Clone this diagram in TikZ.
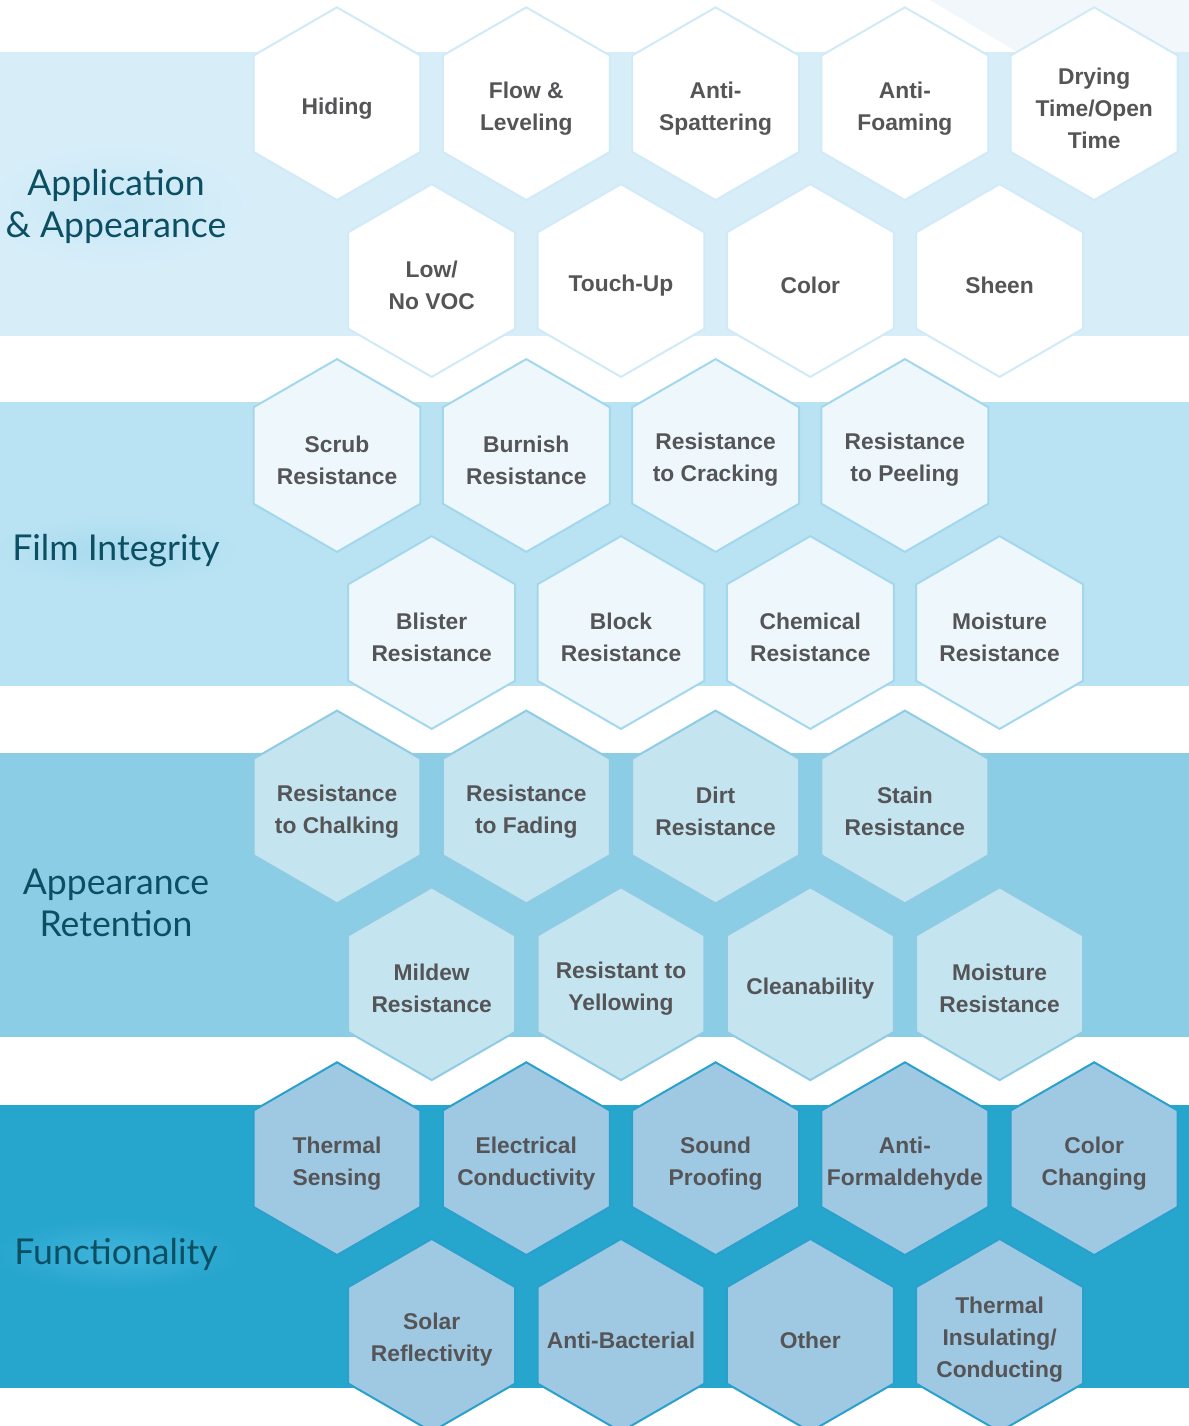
\documentclass[tikz,border=0pt]{standalone}
\usepackage{fontspec}
\setmainfont{Liberation Sans}
\newfontfamily\labelfont{Lato}
\usepackage{tikz}
\usetikzlibrary{shapes.geometric}
\usepackage{xcolor}

\definecolor{bandA}{HTML}{D7EEF9}
\definecolor{bandB}{HTML}{B9E3F3}
\definecolor{bandC}{HTML}{8ACDE5}
\definecolor{bandD}{HTML}{26A5CD}
\definecolor{hexB}{HTML}{EEF8FC}
\definecolor{hexC}{HTML}{C4E4F0}
\definecolor{hexD}{HTML}{9FC9E2}
\definecolor{lineA}{HTML}{D0EAF8}
\definecolor{lineB}{HTML}{A3D7ED}
\definecolor{lineC}{HTML}{8FCCE4}
\definecolor{lineD}{HTML}{2AA1CD}
\definecolor{glowA}{HTML}{C8E7F6}
\definecolor{glowB}{HTML}{A9DAEE}
\definecolor{glowD}{HTML}{40B4DC}
\definecolor{cellgray}{HTML}{555558}
\definecolor{labelteal}{HTML}{0B4F62}
\definecolor{cornerc}{HTML}{F2F7FB}

\tikzset{
	hexa/.style={regular polygon,regular polygon sides=6,shape border rotate=30,minimum size=96.4pt,inner sep=0pt,line width=1pt},
	cell/.style={font=\bfseries\fontsize{11.4}{16}\selectfont,text=cellgray,align=center,yshift=-2.3pt},
	bandlabel/.style={font=\labelfont\fontsize{17.8}{21}\selectfont,text=labelteal,align=center,yshift=-1.5pt}
}

\begin{document}
\begin{tikzpicture}[x=0.5pt,y=-0.5pt]
				\useasboundingbox (0,0) rectangle (1189,1426);
				
				% Fasce
				\fill[cornerc] (930,0) -- (1189,0) -- (1189,52) -- (1017,52) -- cycle;
				\fill[bandA] (0,52) rectangle (1189,335.5);
				\fill[bandB] (0,401.7) rectangle (1189,685.7);
				\fill[bandC] (0,753.3) rectangle (1189,1037.3);
				\fill[bandD] (0,1105) rectangle (1189,1388.3);
				
				% Alone dietro le etichette
				\shade[inner color=glowA,outer color=bandA] (116,206) ellipse [x radius=135,y radius=62];
				\shade[inner color=glowB,outer color=bandB] (116,551) ellipse [x radius=125,y radius=36];
				\shade[inner color=glowD,outer color=bandD] (116,1254) ellipse [x radius=125,y radius=36];
				
				% Etichette
				\node[bandlabel] (app) at (116,203) {Application\\\& Appearance};
				\node[bandlabel] (film) at (116,548) {Film Integrity};
				\node[bandlabel] (ret) at (116,899.5) {Appearance\\Retention};
				\node[bandlabel] (fun) at (116,1251) {Functionality};
				
				% Application & Appearance
				\foreach \i/\txt in {0/Hiding,1/{Flow \&\\Leveling},2/{Anti-\\Spattering},3/{Anti-\\Foaming},4/{Drying\\Time/Open\\Time}}{
					\node[hexa,draw=lineA,fill=white] (app\i) at (337+189.3*\i,103.7) {};
					\node[cell] (app\i-t) at (app\i) {\txt};
				}
				\foreach \i/\txt in {0/{Low/\\No VOC},1/Touch-Up,2/Color,3/Sheen}{
					\node[hexa,draw=lineA,fill=white] (apb\i) at (431.7+189.3*\i,280.5) {};
					\node[cell] (apb\i-t) at (apb\i) {\txt};
				}
				
				% Film Integrity
				\foreach \i/\txt in {0/{Scrub\\Resistance},1/{Burnish\\Resistance},2/{Resistance\\to Cracking},3/{Resistance\\to Peeling}}{
					\node[hexa,draw=lineB,fill=hexB] (film\i) at (337+189.3*\i,455.5) {};
					\node[cell] (film\i-t) at (film\i) {\txt};
				}
				\foreach \i/\txt in {0/{Blister\\Resistance},1/{Block\\Resistance},2/{Chemical\\Resistance},3/{Moisture\\Resistance}}{
					\node[hexa,draw=lineB,fill=hexB] (filb\i) at (431.7+189.3*\i,632.5) {};
					\node[cell] (filb\i-t) at (filb\i) {\txt};
				}
				
				% Appearance Retention
				\foreach \i/\txt in {0/{Resistance\\to Chalking},1/{Resistance\\to Fading},2/{Dirt\\Resistance},3/{Stain\\Resistance}}{
					\node[hexa,draw=lineC,fill=hexC] (ret\i) at (337+189.3*\i,807) {};
					\node[cell] (ret\i-t) at (ret\i) {\txt};
				}
				\foreach \i/\txt in {0/{Mildew\\Resistance},1/{Resistant to\\Yellowing},2/Cleanability,3/{Moisture\\Resistance}}{
					\node[hexa,draw=lineC,fill=hexC] (reb\i) at (431.7+189.3*\i,983.7) {};
					\node[cell] (reb\i-t) at (reb\i) {\txt};
				}
				
				% Functionality
				\foreach \i/\txt in {0/{Thermal\\Sensing},1/{Electrical\\Conductivity},2/{Sound\\Proofing},3/{Anti-\\Formaldehyde},4/{Color\\Changing}}{
					\node[hexa,draw=lineD,fill=hexD] (fun\i) at (337+189.3*\i,1158.7) {};
					\node[cell] (fun\i-t) at (fun\i) {\txt};
				}
				\foreach \i/\txt in {0/{Solar\\Reflectivity},1/Anti-Bacterial,2/Other,3/{Thermal\\Insulating/\\Conducting}}{
					\node[hexa,draw=lineD,fill=hexD] (fub\i) at (431.7+189.3*\i,1335.3) {};
					\node[cell] (fub\i-t) at (fub\i) {\txt};
				}
				
			\end{tikzpicture}
\end{document}
